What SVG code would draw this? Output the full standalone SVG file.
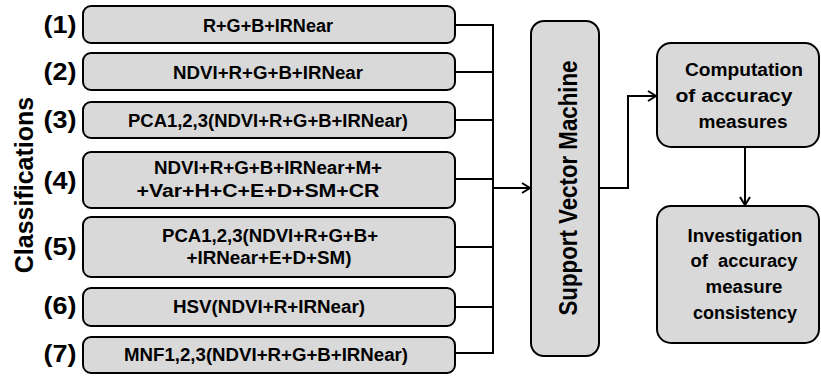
<svg xmlns="http://www.w3.org/2000/svg" width="821" height="377" viewBox="0 0 821 377">
<defs>
<style>
.box{fill:#d9d9d9;stroke:#000;stroke-width:2}
.t{font-family:"Liberation Sans",Arial,sans-serif;font-weight:bold;font-size:18px;fill:#000;text-anchor:middle}
.lb{font-family:"Liberation Sans",Arial,sans-serif;font-weight:bold;font-size:24px;fill:#000;text-anchor:middle}
.big{font-family:"Liberation Sans",Arial,sans-serif;font-weight:bold;font-size:25px;fill:#000;text-anchor:middle}
.c{fill:none;stroke:#000;stroke-width:2}
</style>
<marker id="ah" markerWidth="12" markerHeight="12" refX="10" refY="6" orient="auto" markerUnits="userSpaceOnUse">
<path d="M2,1 L10,6 L2,11" fill="none" stroke="#000" stroke-width="2"/>
</marker>
</defs>
<rect width="821" height="377" fill="#fff"/>
<text class="big" transform="translate(33,185) rotate(-90)">Classifications</text>
<g id="n1"><rect class="box" x="83" y="6" width="372" height="37" rx="8"/><text class="lb" x="60" y="33" textLength="33" lengthAdjust="spacingAndGlyphs">(1)</text><text class="t" x="268" y="32" textLength="130" lengthAdjust="spacingAndGlyphs">R+G+B+IRNear</text></g>
<g id="n2"><rect class="box" x="83" y="53" width="372" height="37" rx="8"/><text class="lb" x="60" y="80" textLength="33" lengthAdjust="spacingAndGlyphs">(2)</text><text class="t" x="268" y="79" textLength="190" lengthAdjust="spacingAndGlyphs">NDVI+R+G+B+IRNear</text></g>
<g id="n3"><rect class="box" x="83" y="102" width="372" height="36" rx="8"/><text class="lb" x="60" y="128" textLength="33" lengthAdjust="spacingAndGlyphs">(3)</text><text class="t" x="268" y="127" textLength="280" lengthAdjust="spacingAndGlyphs">PCA1,2,3(NDVI+R+G+B+IRNear)</text></g>
<g id="n4"><rect class="box" x="83" y="152" width="372" height="56" rx="8"/><text class="lb" x="60" y="189" textLength="33" lengthAdjust="spacingAndGlyphs">(4)</text><text class="t" x="268" y="174" textLength="228" lengthAdjust="spacingAndGlyphs">NDVI+R+G+B+IRNear+M+</text><text class="t" x="258" y="197" textLength="243" lengthAdjust="spacingAndGlyphs">+Var+H+C+E+D+SM+CR</text></g>
<g id="n5"><rect class="box" x="83" y="217" width="372" height="60" rx="8"/><text class="lb" x="60" y="255" textLength="33" lengthAdjust="spacingAndGlyphs">(5)</text><text class="t" x="270" y="242" textLength="216" lengthAdjust="spacingAndGlyphs">PCA1,2,3(NDVI+R+G+B+</text><text class="t" x="269" y="264" textLength="165" lengthAdjust="spacingAndGlyphs">+IRNear+E+D+SM)</text></g>
<g id="n6"><rect class="box" x="83" y="288" width="372" height="38" rx="8"/><text class="lb" x="60" y="314" textLength="33" lengthAdjust="spacingAndGlyphs">(6)</text><text class="t" x="269" y="313" textLength="192" lengthAdjust="spacingAndGlyphs">HSV(NDVI+R+IRNear)</text></g>
<g id="n7"><rect class="box" x="83" y="337" width="372" height="36" rx="8"/><text class="lb" x="60" y="362" textLength="33" lengthAdjust="spacingAndGlyphs">(7)</text><text class="t" x="266" y="361" textLength="284" lengthAdjust="spacingAndGlyphs">MNF1,2,3(NDVI+R+G+B+IRNear)</text></g>
<g id="svm"><rect class="box" x="531" y="21" width="68" height="335" rx="13"/><text class="t" style="font-size:22px" transform="translate(577,188) scale(1.15,1) rotate(-90)" textLength="255" lengthAdjust="spacingAndGlyphs">Support Vector Machine</text></g>
<g id="comp"><rect class="box" x="657" y="43" width="162" height="104" rx="14"/><text class="t" x="744" y="76" textLength="118" lengthAdjust="spacingAndGlyphs">Computation</text><text class="t" x="734" y="102" textLength="117" lengthAdjust="spacingAndGlyphs">of accuracy</text><text class="t" x="743" y="128" textLength="89" lengthAdjust="spacingAndGlyphs">measures</text></g>
<g id="inv"><rect class="box" x="657" y="206" width="162" height="137" rx="14"/><text class="t" x="745" y="242" textLength="115" lengthAdjust="spacingAndGlyphs">Investigation</text><text class="t" x="744" y="267" style="white-space:pre" textLength="107" lengthAdjust="spacingAndGlyphs">of  accuracy</text><text class="t" x="744" y="293" textLength="77" lengthAdjust="spacingAndGlyphs">measure</text><text class="t" x="745" y="319" textLength="104" lengthAdjust="spacingAndGlyphs">consistency</text></g>
<g id="connectors">
<path class="c" d="M455,25 H493 M455,72 H493 M455,120 H493 M455,179 H493 M455,247 H493 M455,307 H493 M455,353 H493 M493,24 V354"/>
<path class="c" d="M493,188 H530" marker-end="url(#ah)"/>
<path class="c" d="M599,188 H628 V96 H656" marker-end="url(#ah)"/>
<path class="c" d="M745,147 V205" marker-end="url(#ah)"/>
</g>
</svg>
